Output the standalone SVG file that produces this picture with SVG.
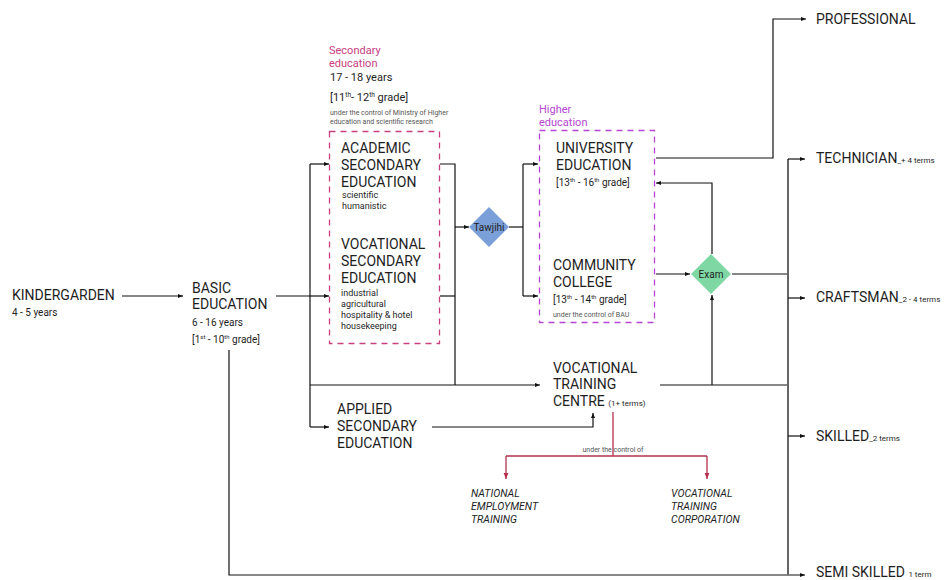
<svg xmlns="http://www.w3.org/2000/svg" width="947" height="580" viewBox="0 0 947 580">
<defs>
<marker id="ah" viewBox="0 0 10 10" refX="10" refY="5" markerWidth="5" markerHeight="5" orient="auto" markerUnits="userSpaceOnUse"><path d="M0 1 L10 5 L0 9 Z" fill="#111"/></marker>
<marker id="ahr" viewBox="0 0 10 10" refX="10" refY="5" markerWidth="6" markerHeight="6" orient="auto" markerUnits="userSpaceOnUse"><path d="M0 1 L10 5 L0 9 Z" fill="#b5304f"/></marker>
</defs>
<style>
text{font-family:Roboto,"Liberation Sans",sans-serif;fill:#1e1e1e}
.b{font-size:14px}
.s{font-size:10px}
.m{font-size:11px}
.d{font-size:10px}
.t{font-size:7px;fill:#555}
.it{font-size:10.5px;font-style:italic}
.sm{font-size:8px}
.ln{fill:none;stroke:#111;stroke-width:1.2}
.gr{fill:none;stroke:#666;stroke-width:2}
.rd{fill:none;stroke:#b5304f;stroke-width:1.3}
.sec{fill:none;stroke:#c8407f;stroke-width:1.3;stroke-dasharray:6 5}
.hig{fill:none;stroke:#b646d0;stroke-width:1.3;stroke-dasharray:6 5}
</style>
<rect width="947" height="580" fill="#fff"/>
<g id="connectors">
<path class="ln" d="M122 296 H183" marker-end="url(#ah)"/>
<path class="ln" d="M276 296 H310"/>
<path class="ln" d="M310 164 V427"/>
<path class="ln" d="M310 164 H329" marker-end="url(#ah)"/>
<path class="ln" d="M310 296 H329" marker-end="url(#ah)"/>
<path class="ln" d="M310 385 H540" marker-end="url(#ah)"/>
<path class="ln" d="M310 427 H329" marker-end="url(#ah)"/>
<path class="ln" d="M440 164 H455 V385"/>
<path class="ln" d="M440 296 H455"/>
<path class="ln" d="M455 227 H469" marker-end="url(#ah)"/>
<path class="ln" d="M509 227 H523"/>
<path class="ln" d="M523 164 V296"/>
<path class="ln" d="M523 164 H538" marker-end="url(#ah)"/>
<path class="ln" d="M523 296 H538" marker-end="url(#ah)"/>
<path class="ln" d="M656 158 H773 V19 H806" marker-end="url(#ah)"/>
<path class="ln" d="M712 254 V183 H656" marker-end="url(#ah)"/>
<path class="ln" d="M656 274 H690" marker-end="url(#ah)"/>
<path class="ln" d="M732 274 H788"/>
<path class="ln" d="M660 385 H788"/>
<path class="ln" d="M712 385 V295" marker-end="url(#ah)"/>
<path class="ln" d="M432 427 H593 V413" marker-end="url(#ah)"/>
<path class="ln" d="M229 350 V575 H805" marker-end="url(#ah)"/>
<path class="gr" d="M788 159 V575"/>
<path class="ln" d="M788 159 H805" marker-end="url(#ah)"/>
<path class="ln" d="M788 298 H805" marker-end="url(#ah)"/>
<path class="ln" d="M788 436 H805" marker-end="url(#ah)"/>
<path class="rd" d="M613 412 V456"/>
<path class="rd" d="M506 456 H707"/>
<path class="rd" d="M506 456 V479" marker-end="url(#ahr)"/>
<path class="rd" d="M707 456 V479" marker-end="url(#ahr)"/>
<text class="t" x="613" y="452" text-anchor="middle">under the control of</text>
</g>
<g id="kindergarden">
<text class="b" x="12" y="300">KINDERGARDEN</text>
<text class="s" x="12" y="316">4 - 5 years</text>
</g>
<g id="basic">
<text class="b" x="192" y="293">BASIC</text>
<text class="b" x="192" y="309">EDUCATION</text>
<text class="s" x="192" y="326">6 - 16 years</text>
<text class="s" x="192" y="343">[1<tspan font-size="6" dy="-4">st</tspan><tspan dy="4"> - 10</tspan><tspan font-size="6" dy="-4">th</tspan><tspan dy="4"> grade]</tspan></text>
</g>
<g id="secondary">
<text class="m" x="329" y="54" style="fill:#c8407f">Secondary</text>
<text class="m" x="329" y="67" style="fill:#c8407f">education</text>
<text class="m" x="330" y="81">17 - 18 years</text>
<text class="m" x="330" y="101">[11<tspan font-size="6.5" dy="-4">th</tspan><tspan dy="4">- 12</tspan><tspan font-size="6.5" dy="-4">th</tspan><tspan dy="4"> grade]</tspan></text>
<text class="t" x="330" y="115">under the control of Ministry of Higher</text>
<text class="t" x="330" y="124">education and scientific research</text>
<rect class="sec" x="329.5" y="131.5" width="110" height="212"/>
</g>
<g id="academic">
<text class="b" x="341" y="153">ACADEMIC</text>
<text class="b" x="341" y="170">SECONDARY</text>
<text class="b" x="341" y="187">EDUCATION</text>
<text class="s" x="342" y="198" style="font-size:9px">scientific</text>
<text class="s" x="342" y="209" style="font-size:9px">humanistic</text>
</g>
<g id="vocational-secondary">
<text class="b" x="341" y="249">VOCATIONAL</text>
<text class="b" x="341" y="266">SECONDARY</text>
<text class="b" x="341" y="283">EDUCATION</text>
<text class="s" x="341" y="296" style="font-size:9px">industrial</text>
<text class="s" x="341" y="307" style="font-size:9px">agricultural</text>
<text class="s" x="341" y="318" style="font-size:9px">hospitality &amp; hotel</text>
<text class="s" x="341" y="329" style="font-size:9px">housekeeping</text>
</g>
<g id="tawjihi">
<path d="M489 207 L509 227 L489 247 L469 227 Z" fill="#7b9fd8"/>
<text class="d" x="489" y="231" text-anchor="middle">Tawjihi</text>
</g>
<g id="higher">
<text class="m" x="539" y="113" style="fill:#b646d0">Higher</text>
<text class="m" x="539" y="126" style="fill:#b646d0">education</text>
<rect class="hig" x="539.5" y="130.5" width="115" height="192"/>
</g>
<g id="university">
<text class="b" x="556" y="153">UNIVERSITY</text>
<text class="b" x="556" y="170">EDUCATION</text>
<text class="s" x="556" y="186">[13<tspan font-size="6" dy="-4">th</tspan><tspan dy="4"> - 16</tspan><tspan font-size="6" dy="-4">th</tspan><tspan dy="4"> grade]</tspan></text>
</g>
<g id="community">
<text class="b" x="553" y="270">COMMUNITY</text>
<text class="b" x="553" y="287">COLLEGE</text>
<text class="s" x="553" y="303">[13<tspan font-size="6" dy="-4">th</tspan><tspan dy="4"> - 14</tspan><tspan font-size="6" dy="-4">th</tspan><tspan dy="4"> grade]</tspan></text>
<text class="t" x="553" y="317">under the control of BAU</text>
</g>
<g id="exam">
<path d="M711 254 L731 274 L711 294 L691 274 Z" fill="#7fd8a4"/>
<text class="d" x="711" y="278" text-anchor="middle">Exam</text>
</g>
<g id="vtc">
<text class="b" x="553" y="373">VOCATIONAL</text>
<text class="b" x="553" y="389">TRAINING</text>
<text class="b" x="553" y="406">CENTRE <tspan class="sm">(1+ terms)</tspan></text>
</g>
<g id="applied">
<text class="b" x="337" y="414">APPLIED</text>
<text class="b" x="337" y="431">SECONDARY</text>
<text class="b" x="337" y="448">EDUCATION</text>
</g>
<g id="net">
<text class="it" x="471" y="497">NATIONAL</text>
<text class="it" x="471" y="510">EMPLOYMENT</text>
<text class="it" x="471" y="523">TRAINING</text>
</g>
<g id="vtcorp">
<text class="it" x="671" y="497">VOCATIONAL</text>
<text class="it" x="671" y="510">TRAINING</text>
<text class="it" x="671" y="523">CORPORATION</text>
</g>
<g id="professional"><text class="b" x="816" y="24">PROFESSIONAL</text></g>
<g id="technician"><text class="b" x="816" y="163">TECHNICIAN<tspan class="sm">_+ 4 terms</tspan></text></g>
<g id="craftsman"><text class="b" x="816" y="302">CRAFTSMAN<tspan class="sm">_2 - 4 terms</tspan></text></g>
<g id="skilled"><text class="b" x="816" y="441">SKILLED<tspan class="sm">_2 terms</tspan></text></g>
<g id="semiskilled"><text class="b" x="816" y="577">SEMI SKILLED <tspan class="sm">1 term</tspan></text></g>
</svg>
